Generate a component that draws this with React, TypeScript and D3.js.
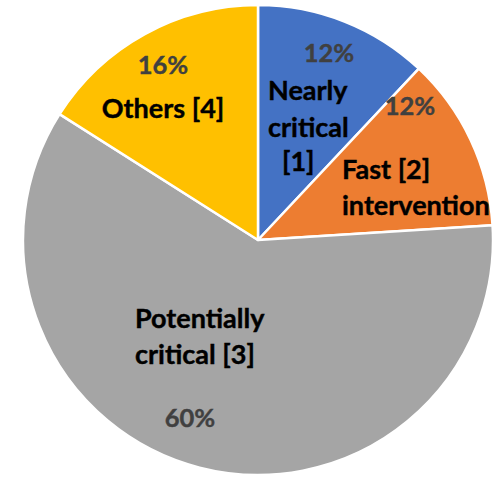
import React from "react";
import * as d3 from "d3";

const categories = ["Nearly critical [1]", "Fast [2] intervention", "Potentially critical [3]", "Others [4]"];
const values = [12, 12, 60, 16];
const percentLabels = ["12%", "12%", "60%", "16%"];
const colors = ["#4472C4", "#ED7D31", "#A5A5A5", "#FFC000"];

// label layout (relative to pie centre): lines, anchor, x, baselines
const nameLayout = [
  { lines: ["Nearly", "critical", "[1]"], anchor: "start", xs: [10, 10, 24], ys: [-140, -103, -69] },
  { lines: ["Fast [2]", "intervention"], anchor: "start", xs: [84, 84], ys: [-61, -25] },
  { lines: ["Potentially", "critical [3]"], anchor: "start", xs: [-123, -123], ys: [88, 124] },
  { lines: ["Others [4]"], anchor: "middle", xs: [-95], ys: [-122] },
];
const pctLayout = [
  { x: 71, y: -178 },
  { x: 152, y: -125 },
  { x: -68, y: 187 },
  { x: -95, y: -166 },
];

const W = 502;
const H = 478;
const cx = 258;
const cy = 240;
const R = 235;
const FONT = "Lato, 'Open Sans', sans-serif";

export default function App() {
  const pie = d3.pie<number>().sort(null).value((d) => d)(values);
  const arc = d3.arc<d3.PieArcDatum<number>>().innerRadius(0).outerRadius(R);
  return (
    <svg width={W} height={H} style={{ position: "absolute", left: 0, top: 0, background: "#fff" }}>
      <g transform={`translate(${cx},${cy})`}>
        {pie.map((p, i) => (
          <path key={categories[i]} d={arc(p) || ""} fill={colors[i]} stroke="#fff" strokeWidth={2.5} strokeLinejoin="round" />
        ))}
        {pie.map((p, i) => (
          <text key={"p" + i} x={pctLayout[i].x} y={pctLayout[i].y} textAnchor="middle" fontFamily={FONT} fontWeight={700} fontSize={25.5} fill="#404040" stroke="#404040" strokeWidth={0.4}>
            {percentLabels[i]}
          </text>
        ))}
        {nameLayout.map((l, i) =>
          l.lines.map((line, j) => (
            <text key={"n" + i + "-" + j} x={l.xs[j]} y={l.ys[j]} textAnchor={l.anchor as any} fontFamily={FONT} fontWeight={700} fontSize={27} fill="#000" stroke="#000" strokeWidth={0.4}>
              {line}
            </text>
          ))
        )}
      </g>
    </svg>
  );
}
